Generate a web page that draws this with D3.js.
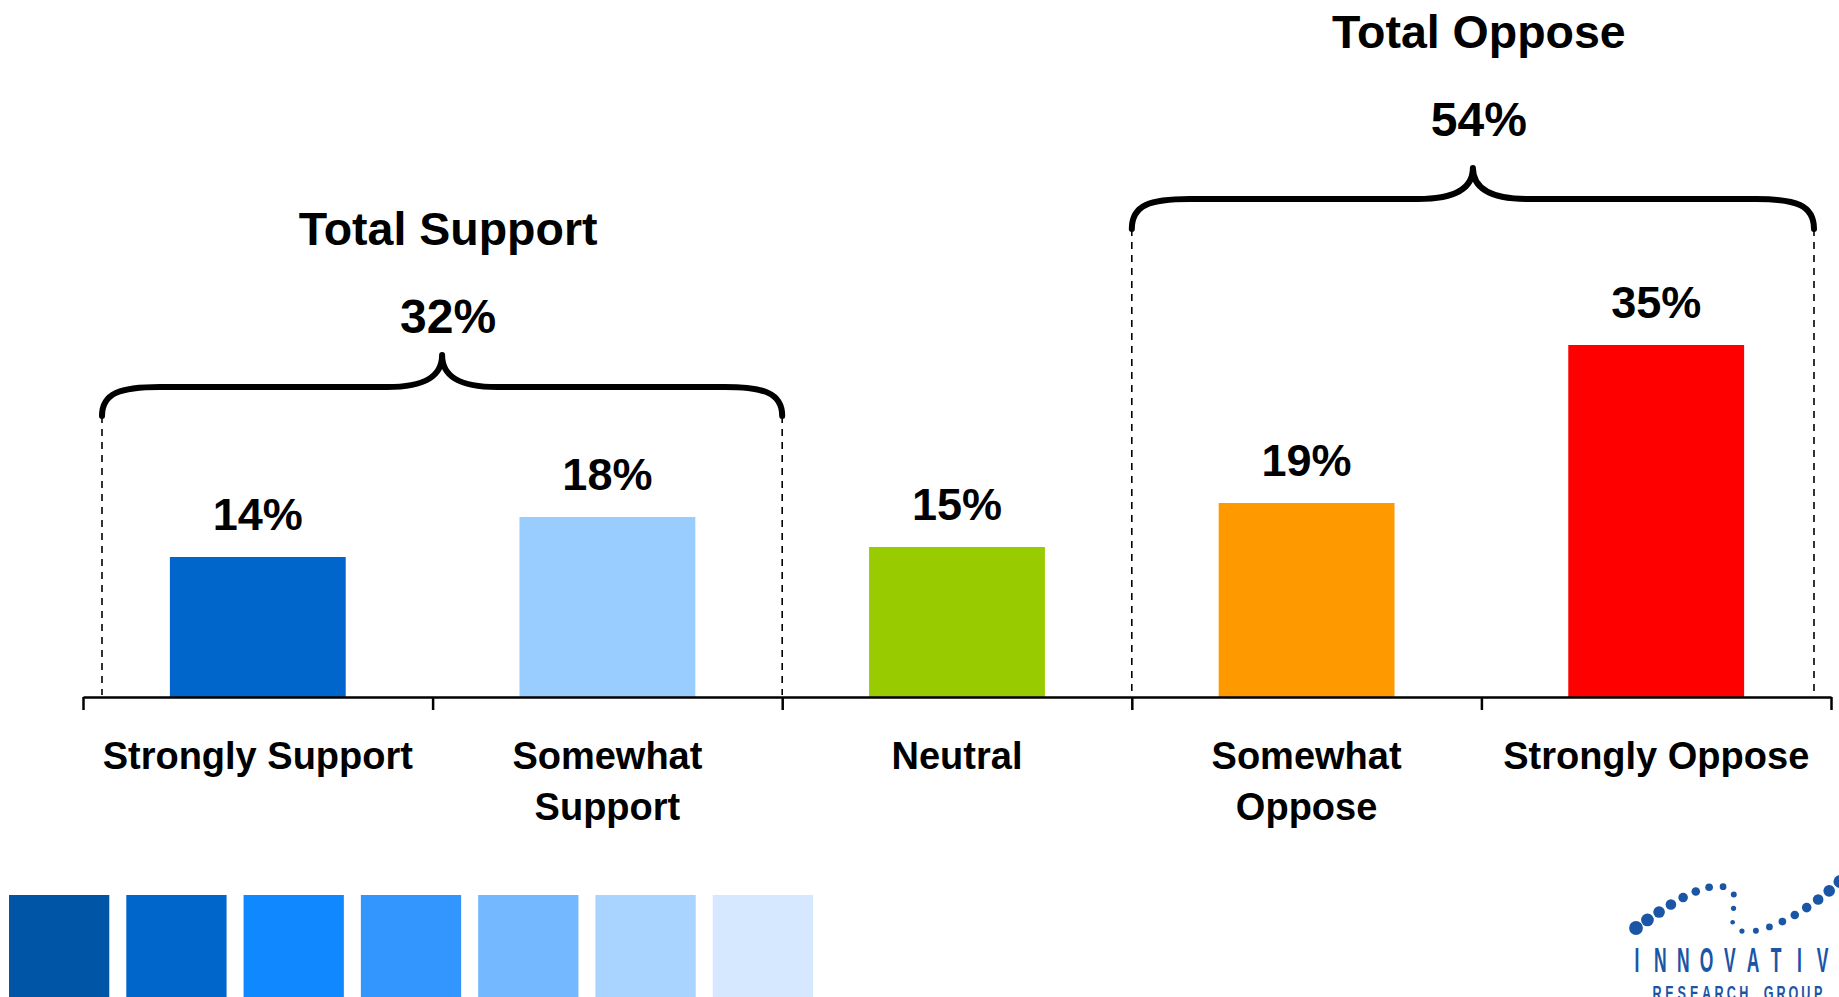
<!DOCTYPE html>
<html>
<head>
<meta charset="utf-8">
<script src="https://cdn.jsdelivr.net/npm/d3@7/dist/d3.min.js"></script>
<style>
  html, body { margin: 0; padding: 0; background: #fff; overflow: hidden; }
  svg text { font-family: "Liberation Sans", Arial, Helvetica, sans-serif; }
</style>
</head>
<body>
<svg id="chart" width="1839" height="997"></svg>
<script>
// data
var categories = ["Strongly Support", "Somewhat Support", "Neutral", "Somewhat Oppose", "Strongly Oppose"];
var categoryLines = [["Strongly Support"], ["Somewhat", "Support"], ["Neutral"], ["Somewhat", "Oppose"], ["Strongly Oppose"]];
var values = [14, 18, 15, 19.4, 35.2];
var barColors = ["#0066cc", "#99ccff", "#99cc00", "#ff9900", "#ff0000"];
var groupTitles = ["Total Support", "Total Oppose"];
var groupTotals = [32, 54];
var groupMembers = [[0, 1], [3, 4]];
var palette = ["#0055a6", "#0066cc", "#1088ff", "#3396ff", "#74b8ff", "#a8d4ff", "#d5e8ff"];

var svg = d3.select("#chart"),
    axisY = 697;

var x = d3.scaleBand().domain(categories).range([83, 1831]).padding(0);
var xi = d3.scaleLinear().domain([0, categories.length]).range([83, 1831]);
var y = d3.scaleLinear().domain([0, 60]).range([axisY, 97]);
var barW = x.bandwidth() * 0.503;

// bars
svg.append("g").selectAll("rect")
    .data(values)
    .enter().append("rect")
    .attr("x", function (d, i) { return x(categories[i]) + (x.bandwidth() - barW) / 2; })
    .attr("y", function (d) { return y(d); })
    .attr("width", barW)
    .attr("height", function (d) { return axisY - y(d); })
    .attr("fill", function (d, i) { return barColors[i]; });

// value labels
svg.append("g").selectAll("text")
    .data(values)
    .enter().append("text")
    .attr("x", function (d, i) { return x(categories[i]) + x.bandwidth() / 2; })
    .attr("y", function (d) { return y(d) - 27; })
    .attr("text-anchor", "middle")
    .attr("font-size", 45)
    .attr("font-weight", "bold")
    .text(function (d) { return Math.round(d) + "%"; });

// axis: line + boundary ticks
var axisG = svg.append("g")
    .attr("transform", "translate(0," + axisY + ")")
    .call(d3.axisBottom(xi).tickValues(d3.range(categories.length + 1)).tickFormat("").tickSizeOuter(0).tickSizeInner(13));
axisG.select(".domain").attr("stroke", "#000").attr("stroke-width", 2.5);
axisG.selectAll(".tick line").attr("stroke", "#000").attr("stroke-width", 2.5);

// category labels
var catG = svg.append("g").selectAll("text")
    .data(categoryLines)
    .enter().append("text")
    .attr("text-anchor", "middle")
    .attr("font-size", 38)
    .attr("font-weight", "bold")
    .attr("x", function (d, i) { return x(categories[i]) + x.bandwidth() / 2; })
    .attr("y", 769);
catG.selectAll("tspan")
    .data(function (d) { return d; })
    .enter().append("tspan")
    .attr("x", function () { return this.parentNode.getAttribute("x"); })
    .attr("dy", function (d, j) { return j === 0 ? 0 : 51; })
    .text(function (d) { return d; });

// braces
var braceLayout = [
    { left: 19, right: 0, level: 387, tip: 355, end: 416, num: 333, title: 245 },
    { left: 0, right: -17, level: 199, tip: 168, end: 229, num: 136, title: 48 }
];
groupMembers.forEach(function (m, gi) {
    var L = braceLayout[gi];
    var xl = x(categories[m[0]]) + L.left,
        xr = x(categories[m[m.length - 1]]) + x.bandwidth() + L.right,
        xm = (xl + xr) / 2;
    var g = svg.append("g");
    [xl, xr].forEach(function (xx) {
        g.append("line")
            .attr("x1", xx).attr("x2", xx)
            .attr("y1", L.end).attr("y2", axisY - 2)
            .attr("stroke", "#000").attr("stroke-width", 1.6)
            .attr("stroke-dasharray", "7,6");
    });
    var p = d3.path();
    p.moveTo(xl, L.end);
    p.bezierCurveTo(xl, L.level + 6, xl + 18, L.level, xl + 58, L.level);
    p.lineTo(xm - 55, L.level);
    p.bezierCurveTo(xm - 18, L.level, xm, L.level - 10, xm, L.tip);
    p.bezierCurveTo(xm, L.level - 10, xm + 18, L.level, xm + 55, L.level);
    p.lineTo(xr - 58, L.level);
    p.bezierCurveTo(xr - 18, L.level, xr, L.level + 6, xr, L.end);
    g.append("path")
        .attr("d", p.toString())
        .attr("fill", "none")
        .attr("stroke", "#000")
        .attr("stroke-width", 6)
        .attr("stroke-linecap", "round")
        .attr("stroke-linejoin", "round");
    g.append("text")
        .attr("x", xm + 6).attr("y", L.num)
        .attr("text-anchor", "middle")
        .attr("font-size", 48).attr("font-weight", "bold")
        .text(groupTotals[gi] + "%");
    g.append("text")
        .attr("x", xm + 6).attr("y", L.title)
        .attr("text-anchor", "middle")
        .attr("font-size", 46.5).attr("font-weight", "bold")
        .text(groupTitles[gi]);
});

// palette strip
var sq = d3.scaleBand().domain(d3.range(palette.length)).range([9, 813]).paddingInner(0.145);
svg.append("g").selectAll("rect")
    .data(palette)
    .enter().append("rect")
    .attr("x", function (d, i) { return sq(i); })
    .attr("y", 895)
    .attr("width", sq.bandwidth())
    .attr("height", 102)
    .attr("fill", function (d) { return d; });

// logo (cropped at the right edge)
var logo = svg.append("g");
var logoBlue = "#1a55a6";
var trail = logo.append("path")
    .attr("d", "M1636,928 C1675,900 1708,880 1728,888 C1742,895 1728,914 1734,927 C1745,940 1795,926 1850,872")
    .attr("fill", "none");
var tl = trail.node().getTotalLength();
var dots = d3.range(21).map(function (i) {
    var t = i / 20;
    var pt = trail.node().getPointAtLength(t * tl);
    var r = 2.3 + 4.6 * Math.pow(Math.abs(t - 0.5) * 2, 1.2);
    return { x: pt.x, y: pt.y, r: r };
});
logo.selectAll("circle")
    .data(dots)
    .enter().append("circle")
    .attr("cx", function (d) { return d.x; })
    .attr("cy", function (d) { return d.y; })
    .attr("r", function (d) { return d.r; })
    .attr("fill", logoBlue);
logo.selectAll("text.big")
    .data("INNOVATIVE".split(""))
    .enter().append("text")
    .attr("class", "big")
    .attr("transform", function (d, i) { return "translate(" + (1637 + i * 23.2) + ",972) scale(0.5,1)"; })
    .attr("text-anchor", "middle")
    .attr("font-size", 35)
    .attr("font-weight", "bold")
    .attr("fill", logoBlue)
    .text(function (d) { return d; });
logo.selectAll("text.small")
    .data("RESEARCH GROUP".split(""))
    .enter().append("text")
    .attr("class", "small")
    .attr("transform", function (d, i) { return "translate(" + (1657 + i * 12.4) + ",1000) scale(0.6,1)"; })
    .attr("text-anchor", "middle")
    .attr("font-size", 21)
    .attr("font-weight", "bold")
    .attr("fill", logoBlue)
    .text(function (d) { return d; });
</script>
</body>
</html>
